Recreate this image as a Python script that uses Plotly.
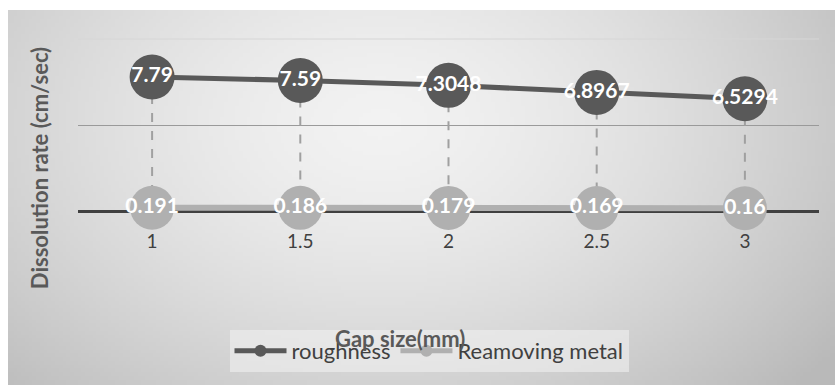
import base64, struct, zlib, math
import plotly.graph_objects as go

# ---- data ----
gap_sizes = ["1", "1.5", "2", "2.5", "3"]
roughness = [7.79, 7.59, 7.3048, 6.8967, 6.5294]
removing_metal = [0.191, 0.186, 0.179, 0.169, 0.16]
roughness_labels = ["7.79", "7.59", "7.3048", "6.8967", "6.5294"]
removing_labels = ["0.191", "0.186", "0.179", "0.169", "0.16"]

W, H = 835, 385
ML, MR, MT, MB = 78, 16, 39, 88
PW, PH = W - ML - MR, H - MT - MB


def px_to_paper_x(px):
    return (px - ML) / PW


def px_to_paper_y(py):
    return (H - MB - py) / PH


# ---- background gradient image (grayscale PNG) ----
def make_png(w, h):
    rows = []
    for j in range(h):
        v = j / (h - 1)
        row = bytearray([0])
        for i in range(w):
            u = i / (w - 1)
            r = math.sqrt(((u - 0.45) / 0.6) ** 2 + ((v - 0.3) / 0.9) ** 2)
            g = 242 - 46 * (min(r, 1.15) ** 1.5)
            row.append(max(0, min(255, int(round(g)))))
        rows.append(bytes(row))
    raw = b"".join(rows)

    def chunk(tag, data):
        c = struct.pack(">I", len(data)) + tag + data
        return c + struct.pack(">I", zlib.crc32(tag + data) & 0xFFFFFFFF)

    png = b"\x89PNG\r\n\x1a\n"
    png += chunk(b"IHDR", struct.pack(">IIBBBBB", w, h, 8, 0, 0, 0, 0))
    png += chunk(b"IDAT", zlib.compress(raw, 9))
    png += chunk(b"IEND", b"")
    return "data:image/png;base64," + base64.b64encode(png).decode()


bg = make_png(220, 100)

FONT = "Lato"
DARK = "#595959"
LIGHT = "#b0b0b0"

fig = go.Figure()

# drop lines
dx, dy = [], []
for c, a, b in zip(gap_sizes, roughness, removing_metal):
    dx += [c, c, None]
    dy += [a, b, None]
fig.add_trace(go.Scatter(x=dx, y=dy, mode="lines", showlegend=False, hoverinfo="skip",
                         line=dict(color="#a0a0a0", width=2, dash="dash")))

fig.add_trace(go.Scatter(
    x=gap_sizes, y=roughness, name="roughness", mode="lines+markers+text",
    text=roughness_labels, textposition="middle center",
    textfont=dict(family=FONT, size=21, color="white", weight="bold"),
    line=dict(color=DARK, width=5),
    marker=dict(size=45, color=DARK)))

fig.add_trace(go.Scatter(
    x=gap_sizes, y=removing_metal, name="Reamoving metal", mode="lines+markers+text",
    text=removing_labels, textposition="middle center",
    textfont=dict(family=FONT, size=21, color="white", weight="bold"),
    line=dict(color=LIGHT, width=6),
    marker=dict(size=44, color=LIGHT)))

fig.update_layout(
    width=W, height=H,
    margin=dict(l=ML, r=MR, t=MT, b=MB),
    paper_bgcolor="white",
    plot_bgcolor="rgba(0,0,0,0)",
    font=dict(family=FONT, color="#404040"),
    images=[dict(source=bg, xref="paper", yref="paper",
                 x=px_to_paper_x(8), y=px_to_paper_y(10),
                 sizex=(W - 8) / PW, sizey=(H - 10) / PH,
                 sizing="stretch", layer="below", xanchor="left", yanchor="top")],
    xaxis=dict(type="category", range=[-0.5, 4.5], anchor="free", position=1 / 3,
               showgrid=False, showline=False, ticks="", zeroline=False,
               tickfont=dict(family=FONT, size=19, color="#404040"),
               ticklabelstandoff=17),
    yaxis=dict(range=[-5, 10], tickvals=[5], showticklabels=False,
               showgrid=True, gridcolor="#9a9a9a", gridwidth=1,
               zeroline=True, zerolinecolor="#404040", zerolinewidth=3,
               title=dict(text="<b>Dissolution rate (cm/sec)</b>",
                          font=dict(family=FONT, size=22, color=DARK), standoff=22)),
    shapes=[dict(type="line", xref="paper", yref="paper", x0=0, x1=1, y0=1, y1=1,
                 line=dict(color="#d6d6d6", width=1), layer="below")],
    annotations=[dict(text="<b>Gap size(mm)</b>", xref="paper", yref="paper",
                      x=px_to_paper_x(400), y=px_to_paper_y(338), showarrow=False,
                      xanchor="center", yanchor="middle",
                      font=dict(family=FONT, size=22, color=DARK))],
    legend=dict(orientation="h", xanchor="center", yanchor="middle",
                x=px_to_paper_x(429), y=px_to_paper_y(351),
                bgcolor="rgba(240,240,240,0.6)", itemsizing="constant",
                font=dict(family=FONT, size=22, color="#404040"),
                itemwidth=52),
    showlegend=True,
)

fig.write_html("out.html")
